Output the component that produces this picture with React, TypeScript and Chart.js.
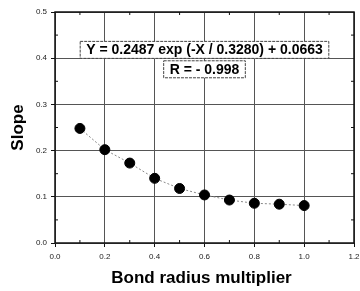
import React, { useEffect, useRef } from "react";
import { Chart, registerables } from "chart.js";

Chart.register(...registerables);

const xValues = [0.1, 0.2, 0.3, 0.4, 0.5, 0.6, 0.7, 0.8, 0.9, 1.0];
const slopeValues = [0.248, 0.202, 0.173, 0.14, 0.118, 0.104, 0.093, 0.086, 0.084, 0.081];
const equationText = "Y = 0.2487 exp (-X / 0.3280) + 0.0663";
const rText = "R = - 0.998";
const xTitle = "Bond radius multiplier";
const yTitle = "Slope";

const FONT = "'Liberation Sans', Arial, sans-serif";

const framePlugin = {
  id: "frame",
  afterDraw(chart: any) {
    const { ctx, chartArea } = chart;
    const xs = chart.scales.x;
    const ys = chart.scales.y;
    const { left, right, top, bottom } = chartArea;
    ctx.save();
    ctx.strokeStyle = "#111";
    ctx.lineWidth = 1.5;
    ctx.strokeRect(left, top, right - left, bottom - top);
    ctx.lineWidth = 1;
    for (let v = 0.1; v < 1.2; v += 0.2) {
      const px = xs.getPixelForValue(v);
      ctx.beginPath();
      ctx.moveTo(px, bottom);
      ctx.lineTo(px, bottom - 3);
      ctx.moveTo(px, top);
      ctx.lineTo(px, top + 3);
      ctx.stroke();
    }
    for (let v = 0.05; v < 0.5; v += 0.1) {
      const py = ys.getPixelForValue(v);
      ctx.beginPath();
      ctx.moveTo(left, py);
      ctx.lineTo(left + 3, py);
      ctx.moveTo(right, py);
      ctx.lineTo(right - 3, py);
      ctx.stroke();
    }
    const cx = xs.getPixelForValue(0.6);
    const drawBox = (text: string, cyVal: number) => {
      ctx.font = `bold 14px ${FONT}`;
      const w = ctx.measureText(text).width + 12;
      const h = 17;
      const cy = ys.getPixelForValue(cyVal);
      ctx.fillStyle = "#fff";
      ctx.fillRect(cx - w / 2, cy - h / 2, w, h);
      ctx.setLineDash([3, 1]);
      ctx.strokeStyle = "#444";
      ctx.lineWidth = 1;
      ctx.strokeRect(cx - w / 2, cy - h / 2, w, h);
      ctx.setLineDash([]);
      ctx.fillStyle = "#000";
      ctx.textAlign = "center";
      ctx.textBaseline = "middle";
      ctx.fillText(text, cx, cy + 0.5);
    };
    drawBox(equationText, 0.418);
    drawBox(rText, 0.376);
    ctx.fillStyle = "#000";
    ctx.font = `bold 17px ${FONT}`;
    ctx.textAlign = "center";
    ctx.textBaseline = "middle";
    ctx.fillText(xTitle, (left + right) / 2 - 3, 278);
    ctx.save();
    ctx.translate(18, (top + bottom) / 2);
    ctx.rotate(-Math.PI / 2);
    ctx.fillText(yTitle, 0, 0);
    ctx.restore();
    ctx.restore();
  },
};

export default function App() {
  const ref = useRef<HTMLCanvasElement>(null);
  useEffect(() => {
    document.body.style.margin = "0";
    const chart = new Chart(ref.current!, {
      type: "scatter",
      data: {
        datasets: [
          {
            data: xValues.map((x, i) => ({ x, y: slopeValues[i] })),
            showLine: true,
            borderColor: "#888",
            borderWidth: 1,
            borderDash: [2, 2],
            pointRadius: 5,
            pointBackgroundColor: "#000",
            pointBorderColor: "#000",
          },
        ],
      },
      options: {
        animation: false,
        responsive: false,
        layout: { padding: { top: 12, right: 5, left: 0, bottom: 0 } },
        plugins: { legend: { display: false }, tooltip: { enabled: false } },
        scales: {
          x: {
            type: "linear",
            min: 0,
            max: 1.2,
            ticks: {
              stepSize: 0.2,
              font: { size: 8, family: FONT },
              color: "#222",
              padding: 5,
              callback: (v: any) => Number(v).toFixed(1),
            },
            grid: { color: "#555", lineWidth: 1, tickLength: 4, tickColor: "#111" },
            border: { display: false },
            afterFit: (s: any) => {
              s.height = 48;
              s.paddingRight = 0;
              s.paddingLeft = 0;
            },
          },
          y: {
            type: "linear",
            min: 0,
            max: 0.5,
            ticks: {
              stepSize: 0.1,
              font: { size: 8, family: FONT },
              color: "#222",
              padding: 4,
              callback: (v: any) => Number(v).toFixed(1),
            },
            grid: { color: "#555", lineWidth: 1, tickLength: 4, tickColor: "#111" },
            border: { display: false },
            afterFit: (s: any) => {
              s.width = 55;
              s.paddingTop = 0;
              s.paddingBottom = 0;
            },
          },
        },
      },
      plugins: [framePlugin],
    });
    return () => chart.destroy();
  }, []);
  return (
    <div style={{ width: 360, height: 291, background: "#fff" }}>
      <canvas ref={ref} width={360} height={291} />
    </div>
  );
}
